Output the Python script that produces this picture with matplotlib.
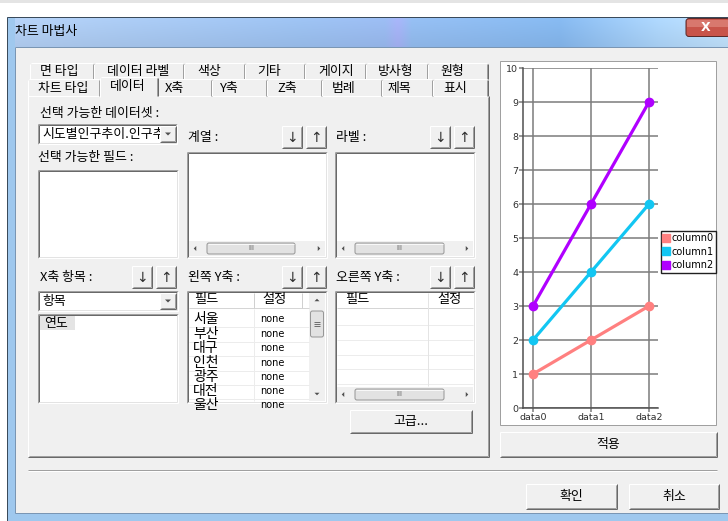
import matplotlib
matplotlib.use('Agg')
import matplotlib.pyplot as plt
import numpy as np
from matplotlib.patches import Rectangle, FancyBboxPatch, Polygon
from matplotlib.lines import Line2D
from matplotlib.colors import to_rgb

plt.rcParams['font.family'] = ['Noto Sans CJK KR', 'DejaVu Sans']

# ---------------- data ----------------
categories = ['data0', 'data1', 'data2']
series_names = ['column0', 'column1', 'column2']
column0 = [1, 2, 3]
column1 = [2, 4, 6]
column2 = [3, 6, 9]
series_values = [column0, column1, column2]
series_colors = ['#ff8080', '#12c6f2', '#b000ff']
y_ticks = [0, 1, 2, 3, 4, 5, 6, 7, 8, 9, 10]

window_title = '차트 마법사'
tabs_row1 = ['면 타입', '데이터 라벨', '색상', '기타', '게이지', '방사형', '원형']
tabs_row2 = ['차트 타입', '데이터', 'X축', 'Y축', 'Z축', '범례', '제목', '표시']
left_y_fields = ['서울', '부산', '대구', '인천', '광주', '대전', '울산']
left_y_settings = ['none', 'none', 'none', 'none', 'none', 'none', 'none']
dataset_name = '시도별인구추이.인구추이'
x_item = '항목'
x_fields = ['연도']

# ---------------- layout ----------------
W, H = 728, 521
FS = 9.3
fig = plt.figure(figsize=(W / 100, H / 100), dpi=100)
fig.patch.set_facecolor('white')
ui = fig.add_axes([0, 0, 1, 1])
ui.axis('off')
PX = 0.72


def R(x0, y0, x1, y1, fc='none', ec='none', lw=PX, z=1):
    ui.add_patch(Rectangle((x0, y0), x1 - x0, y1 - y0, facecolor=fc,
                           edgecolor=ec, linewidth=lw, zorder=z))


def L(xs, ys, c, lw=PX, z=2):
    ui.plot(xs, ys, color=c, lw=lw, zorder=z, solid_capstyle='butt')


def T(x, y, s, size=FS, ha='left', va='center', color='black', z=5, **kw):
    return ui.text(x, y, s, fontsize=size, ha=ha, va=va, color=color, zorder=z, **kw)


def raised(x0, y0, x1, y1, fc='#f0f0f0', z=2):
    R(x0, y0, x1, y1, fc=fc, z=z)
    L([x0, x1], [y0, y0], 'white', z=z + 0.1)
    L([x0, x0], [y0, y1], 'white', z=z + 0.1)
    L([x0, x1], [y1, y1], '#696969', z=z + 0.1)
    L([x1, x1], [y0, y1], '#696969', z=z + 0.1)
    L([x0 + 1, x1 - 1], [y1 - 1, y1 - 1], '#a0a0a0', z=z + 0.1)
    L([x1 - 1, x1 - 1], [y0 + 1, y1 - 1], '#a0a0a0', z=z + 0.1)


def sunken(x0, y0, x1, y1, fc='white', z=2):
    R(x0, y0, x1, y1, fc=fc, z=z)
    L([x0, x1], [y0, y0], '#a0a0a0', z=z + 0.1)
    L([x0, x0], [y0, y1], '#a0a0a0', z=z + 0.1)
    L([x0 + 1, x1 - 1], [y0 + 1, y0 + 1], '#696969', z=z + 0.1)
    L([x0 + 1, x0 + 1], [y0 + 1, y1 - 1], '#696969', z=z + 0.1)
    L([x0, x1], [y1, y1], 'white', z=z + 0.1)
    L([x1, x1], [y0, y1], 'white', z=z + 0.1)
    L([x0 + 1, x1 - 1], [y1 - 1, y1 - 1], '#e3e3e3', z=z + 0.1)
    L([x1 - 1, x1 - 1], [y0 + 1, y1 - 1], '#e3e3e3', z=z + 0.1)


def tri(cx, cy, d, s=3, z=4):
    if d == 'l':
        pts = [(cx + s / 2, cy - s), (cx + s / 2, cy + s), (cx - s / 2, cy)]
    elif d == 'r':
        pts = [(cx - s / 2, cy - s), (cx - s / 2, cy + s), (cx + s / 2, cy)]
    elif d == 'u':
        pts = [(cx - s, cy + s / 2), (cx + s, cy + s / 2), (cx, cy - s / 2)]
    else:
        pts = [(cx - s, cy - s / 2), (cx + s, cy - s / 2), (cx, cy + s / 2)]
    ui.add_patch(Polygon(pts, closed=True, fc='#505050', ec='none', zorder=z))


def hscroll(x0, x1, y0, y1, t0, t1):
    R(x0, y0, x1, y1, fc='#f0f0f0', z=3)
    tri(x0 + 6, (y0 + y1) / 2, 'l', 2.5)
    tri(x1 - 6, (y0 + y1) / 2, 'r', 2.5)
    ui.add_patch(FancyBboxPatch((t0, y0 + 2), t1 - t0, y1 - y0 - 4,
                                boxstyle='round,pad=0,rounding_size=2',
                                fc='#e2e2e2', ec='#979797', lw=PX, zorder=3.5))
    L([t0 + 1, t1 - 1], [y0 + 3, y0 + 3], '#f8f8f8', z=3.6)
    T((t0 + t1) / 2, (y0 + y1) / 2, 'III', size=5, ha='center', color='#606060',
      family='DejaVu Sans', z=4)


def vscroll(x0, x1, y0, y1, t0, t1):
    R(x0, y0, x1, y1, fc='#f0f0f0', z=3)
    tri((x0 + x1) / 2, y0 + 7, 'u', 2.5)
    tri((x0 + x1) / 2, y1 - 7, 'd', 2.5)
    ui.add_patch(FancyBboxPatch((x0 + 1.5, t0), x1 - x0 - 3, t1 - t0,
                                boxstyle='round,pad=0,rounding_size=2',
                                fc='#e2e2e2', ec='#979797', lw=PX, zorder=3.5))
    for dy in (-2, 0, 2):
        L([x0 + 5, x1 - 5], [(t0 + t1) / 2 + dy] * 2, '#707070', z=4)


# ---------------- window chrome ----------------
R(0, 0, W, 3, fc='#e4e4e4', z=0.5)
R(0, 3, W, 17, fc='white', z=0.5)

# title bar gradient
stops_x = [7, 120, 300, 385, 398, 412, 560, 660, 728]
stops_c = ['#b0cbee', '#a6c5ec', '#98bcea', '#96b6ea', '#a2aef0', '#90b8ea',
           '#82b3e8', '#a9d0f4', '#bcdcf6']
xs = np.linspace(7, 728, 400)
cols = np.array([to_rgb(c) for c in stops_c])
grad = np.stack([np.interp(xs, stops_x, cols[:, k]) for k in range(3)], axis=-1)
rows = np.linspace(1.05, 0.98, 30)[:, None, None]
img = np.clip(grad[None, :, :] * rows, 0, 1)
ui.imshow(img, extent=(7, 728, 47, 17), aspect='auto', origin='upper', zorder=0.8)
# frame
R(7, 17, 15, 521, fc='#9fc8ee', z=0.9)
R(7, 513, 728, 521, fc='#9fc8ee', z=0.9)
L([7, 7], [17, 521], '#3a4a5a', z=1)
L([7, 728], [17, 17], '#3a4a5a', z=1)
# client area
R(15, 47, 728, 513, fc='#f0f0f0', z=1)
L([15, 15], [47, 513], '#7a96b4', z=1.1)
L([15, 728], [47, 47], '#7a96b4', z=1.1)
L([15, 728], [513, 513], '#7a96b4', z=1.1)
T(15, 32, window_title, size=9.3)
# close button
ui.add_patch(FancyBboxPatch((686, 18.5), 44, 18, boxstyle='round,pad=0,rounding_size=3',
                            fc='#c8544a', ec='#5a2a2a', lw=PX, zorder=2))
R(687, 19.5, 728, 27, fc='#d8786e', z=2.1)
T(706, 27.5, 'X', size=9, ha='center', color='white', family='DejaVu Sans',
  fontweight='bold', z=3)

# ---------------- tabs ----------------
row1_edges = [30, 94, 184, 245, 305, 366, 428, 488]
row1_text_x = [40, 107, 197, 257, 318, 378, 440]
row2_edges = [28, 100, 158, 212, 267, 322, 382, 433, 488]
row2_text_x = [38, 110, 165, 220, 277, 332, 388, 443]
selected_tab = 1

# tab panel
R(28, 96, 489, 457, fc='#f0f0f0', z=1.5)
L([28, 489], [96, 96], 'white', z=1.6)
L([28, 28], [96, 457], 'white', z=1.6)
L([28, 489], [457, 457], '#696969', z=1.6)
L([489, 489], [96, 457], '#696969', z=1.6)
L([29, 488], [456, 456], '#a0a0a0', z=1.6)
L([488, 488], [97, 456], '#a0a0a0', z=1.6)

for i, lab in enumerate(tabs_row1):
    x0, x1 = row1_edges[i], row1_edges[i + 1]
    L([x0 + 1, x1 - 1], [63, 63], 'white', z=1.6)
    L([x0, x0], [64, 79], 'white', z=1.6)
    L([x1 - 1, x1 - 1], [64, 79], '#a0a0a0', z=1.6)
    L([x1, x1], [64, 79], '#696969', z=1.6)
    T(row1_text_x[i], 71.5, lab)

for i, lab in enumerate(tabs_row2):
    x0, x1 = row2_edges[i], row2_edges[i + 1]
    if i == selected_tab:
        R(x0, 77, x1, 97.5, fc='#f0f0f0', z=1.7)
        L([x0 + 1, x1 - 1], [77, 77], 'white', z=1.8)
        L([x0, x0], [78, 97], 'white', z=1.8)
        L([x1 - 1, x1 - 1], [78, 96], '#a0a0a0', z=1.8)
        L([x1, x1], [78, 96], '#696969', z=1.8)
        T(row2_text_x[i], 86.5, lab, z=6)
    else:
        L([x0 + 1, x1 - 1], [79, 79], 'white', z=1.6)
        L([x0, x0], [80, 96], 'white', z=1.6)
        L([x1 - 1, x1 - 1], [80, 96], '#a0a0a0', z=1.6)
        L([x1, x1], [80, 96], '#696969', z=1.6)
        T(row2_text_x[i], 88.5, lab)

# ---------------- data tab contents ----------------
T(40, 113, '선택 가능한 데이터셋 :')
sunken(38, 124, 177, 144)
t = T(42, 134.5, dataset_name, z=4)
t.set_clip_path(Rectangle((40, 125), 119, 18, transform=ui.transData))
raised(160, 126, 176, 142, z=4.2)
tri(168, 134, 'd', 3, z=5)

T(38, 157, '선택 가능한 필드 :')
sunken(38, 170, 178, 258)


def arrow_buttons(x, y0, y1):
    raised(x, y0, x + 20, y1)
    raised(x + 24, y0, x + 44, y1)
    T(x + 10, (y0 + y1) / 2 + 0.5, '↓', size=10, ha='center', color='#303030',
      family='DejaVu Sans')
    T(x + 34, (y0 + y1) / 2 + 0.5, '↑', size=10, ha='center', color='#303030',
      family='DejaVu Sans')


T(188, 137, '계열 :')
arrow_buttons(282, 126, 148)
sunken(187, 152, 327, 258)
hscroll(189, 325, 241, 256, 207, 295)

T(336, 137, '라벨 :')
arrow_buttons(430, 126, 148)
sunken(335, 152, 475, 258)
hscroll(337, 473, 241, 256, 355, 444)

# X axis item
T(40, 278, 'X축 항목 :')
arrow_buttons(132, 266, 288)
sunken(38, 291, 178, 311)
T(42, 301, x_item)
raised(160, 293, 176, 309, z=4.2)
tri(168, 301, 'd', 3, z=5)
sunken(38, 314, 178, 403)
for i, f in enumerate(x_fields):
    R(40, 316 + 14 * i, 75, 330 + 14 * i, fc='#e4e4e4', z=3)
    T(44, 323 + 14 * i, f)

# left Y axis grid
T(188, 278, '왼쪽 Y축 :')
arrow_buttons(282, 266, 288)
sunken(187, 291, 327, 403)
R(189, 293, 309, 308, fc='white', z=3)
L([189, 309], [308, 308], '#d5d5d5', z=3.2)
L([254, 254], [293, 308], '#d0d0d0', z=3.2)
L([302, 302], [293, 308], '#d0d0d0', z=3.2)
T(194, 300, '필드', size=9.5)
T(262, 300, '설정', size=9.5)
row_y = [319, 334, 348, 363, 377, 391, 405]
gclip = Rectangle((189, 309), 120, 92, transform=ui.transData)
for i, (f, s) in enumerate(zip(left_y_fields, left_y_settings)):
    y = row_y[i]
    if i < len(row_y) - 1:
        L([189, 309], [y + 7.5, y + 7.5], '#ececec', z=3.1)
    t1 = T(193, y, f, size=10, z=4)
    t1.set_clip_path(gclip)
    t2 = T(260, y, s, size=7, family='DejaVu Sans', z=4)
    t2.set_clip_path(gclip)
L([254, 254], [309, 401], '#ececec', z=3.1)
vscroll(309, 325, 293, 401, 311, 337)

# right Y axis grid
T(336, 278, '오른쪽 Y축 :')
arrow_buttons(430, 266, 288)
sunken(335, 291, 475, 403)
R(337, 293, 473, 308, fc='white', z=3)
L([337, 473], [308, 308], '#d5d5d5', z=3.2)
L([428, 428], [293, 386], '#e4e4e4', z=3.2)
T(345, 300, '필드', size=9.5)
T(437, 300, '설정', size=9.5)
for y in [325, 340, 355, 369, 384]:
    L([337, 473], [y, y], '#ececec', z=3.1)
hscroll(337, 473, 387, 402, 355, 444)

raised(350, 410, 472, 433)
T(411, 421.5, '고급...', ha='center')

# chart panel
R(500, 61, 716, 425, fc='white', ec='#a0a0a0', z=1.5)
raised(500, 432, 717, 457)
T(608.5, 444.5, '적용', ha='center')

# separator & bottom buttons
L([28, 717], [470, 470], '#a0a0a0')
L([28, 717], [471, 471], 'white')
raised(526, 484, 617, 509)
T(571.5, 496.5, '확인', ha='center')
raised(629, 484, 719, 509)
T(674, 496.5, '취소', ha='center')

ui.set_xlim(0, W)
ui.set_ylim(H, 0)

# ---------------- chart ----------------
ax = fig.add_axes([523 / W, 1 - 408 / H, 135 / W, 340 / H])
ax.set_zorder(3)
ax.patch.set_alpha(0)
xpos = np.arange(len(categories))
for vals, name, c in zip(series_values, series_names, series_colors):
    ax.plot(xpos, vals, color=c, lw=2.3, marker='o', ms=6, label=name,
            zorder=3, clip_on=False)
ax.set_xlim(-10 / 58, 2 + 9 / 58)
ax.set_ylim(0, 10)
ax.set_xticks(xpos)
ax.set_xticklabels(categories, family='DejaVu Sans')
ax.set_yticks(y_ticks)
ax.set_yticklabels([str(v) for v in y_ticks], family='DejaVu Sans')
ax.grid(True, color='#7c7c7c', lw=1.1, zorder=1)
ax.set_axisbelow(True)
ax.tick_params(length=3, width=1.1, color='#7c7c7c', pad=0.5, labelsize=6.8,
               labelcolor='#303030')
for sp in ['top', 'right']:
    ax.spines[sp].set_visible(False)
for sp in ['left', 'bottom']:
    ax.spines[sp].set_color('#505050')
    ax.spines[sp].set_linewidth(1.1)

handles = [Line2D([], [], marker='s', ls='', color=c, markersize=5.5)
           for c in series_colors]
leg = fig.legend(handles, series_names, loc='upper left',
                 bbox_to_anchor=(661 / W, 1 - 231 / H), bbox_transform=fig.transFigure,
                 prop={'family': 'DejaVu Sans', 'size': 7}, frameon=True,
                 fancybox=False, edgecolor='#202020', framealpha=1,
                 borderpad=0.25, labelspacing=0.35, handlelength=0.6,
                 handletextpad=0.25, borderaxespad=0)
leg.get_frame().set_linewidth(1.0)

fig.savefig('out.png', dpi=100)
